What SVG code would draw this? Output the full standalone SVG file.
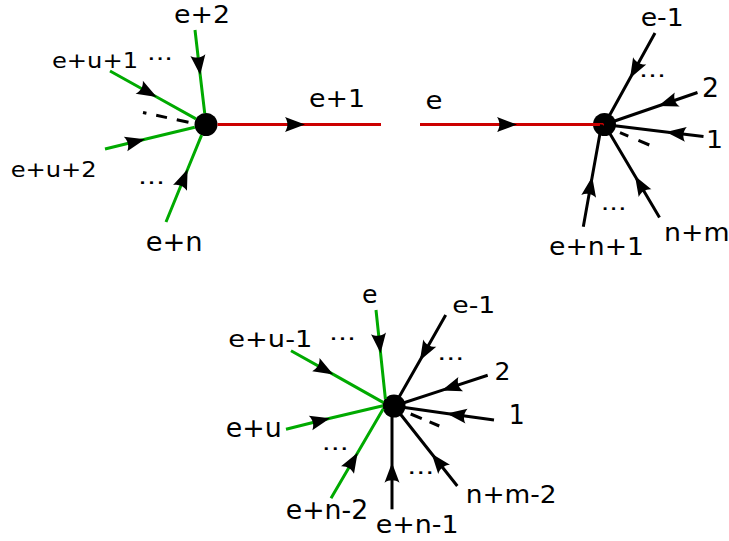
<svg xmlns="http://www.w3.org/2000/svg" width="729" height="541" viewBox="0 0 729 541">
<style>
  .g { fill: none; stroke: #00aa00; stroke-width: 3; }
  .k { fill: none; stroke: #000000; stroke-width: 3; }
  .r { fill: none; stroke: #cc0000; stroke-width: 3; }
  .arr { marker-mid: url(#arrow); }
  .d { fill: none; stroke: #000000; stroke-width: 3; }
  .node { fill: #000000; }
  text { font-family: "DejaVu Sans", "Liberation Sans", sans-serif; fill: #000000; }
</style>
<defs>
  <marker id="arrow" markerUnits="userSpaceOnUse" orient="auto" viewBox="-22 -9 24 18" refX="0" refY="0" markerWidth="24" markerHeight="18" overflow="visible">
    <path d="M0,0 L-20,-7.5 C-16.8,-2.8 -16.8,2.8 -20,7.5 Z" fill="#000000"/>
  </marker>
</defs>

<g id="node-a"><circle class="node" cx="206" cy="124.5" r="11.5"/></g>
<g id="node-b"><circle class="node" cx="604.5" cy="124.5" r="11.5"/></g>
<g id="node-c"><circle class="node" cx="394" cy="406" r="11.5"/></g>

<g id="connectors">
  <!-- left diagram -->
  <polyline class="g arr" points="195,30 200.2,75 204.7,113.1"/>
  <polyline class="g arr" points="110,71 156.7,97 196,118.9"/>
  <polyline class="g arr" points="105,149 145,139.3 194.8,127.2"/>
  <polyline class="g arr" points="166,222 187.6,169.3 201.6,135.1"/>
  <line class="d" x1="143" y1="112.5" x2="189" y2="122.3" stroke-dasharray="3.5 10 11 10 12"/>
  <polyline class="r arr" points="217.5,124.5 305,124.5 381,124.5"/>

  <!-- right diagram -->
  <polyline class="r arr" points="420,124.5 517,124.5 604.5,124.5"/>
  <polyline class="k arr" points="655,33 630,78.3 604.5,124.5"/>
  <polyline class="k arr" points="697.5,92.5 658.3,106 604.5,124.5"/>
  <polyline class="k arr" points="703.5,136.5 666,132 604.5,124.5"/>
  <polyline class="k arr" points="659.5,217.5 635,176 604.5,124.5"/>
  <polyline class="k arr" points="583.3,226.7 592.2,176.7 601.6,124.5"/>
  <line class="d" x1="620" y1="132.7" x2="649.3" y2="145" stroke-dasharray="9 11 13"/>

  <!-- bottom diagram -->
  <polyline class="g arr" points="376,310 380.6,353.3 385.4,399"/>
  <polyline class="g arr" points="291,350.7 333.3,374.4 383.5,402.6"/>
  <polyline class="g arr" points="286,429.3 330,418.2 383,405.7"/>
  <polyline class="g arr" points="331,498.3 357.6,452.7 383.3,408.7"/>
  <polyline class="k arr" points="445.7,315 419.9,360.5 394,406"/>
  <polyline class="k arr" points="487.7,375.3 441.7,390.4 394,406"/>
  <polyline class="k arr" points="494,420 446.7,413.4 394,406"/>
  <polyline class="k arr" points="457.3,486 431.7,453.7 394,406"/>
  <polyline class="k arr" points="392,509.3 392,462.7 392,406"/>
  <line class="d" x1="410.7" y1="414" x2="439.3" y2="426" stroke-dasharray="12 8.5 11"/>
</g>

<g id="labels">
  <!-- left diagram -->
  <text x="174" y="22.7" font-size="24" textLength="56" lengthAdjust="spacingAndGlyphs">e+2</text>
  <text x="52" y="67.7" font-size="22" textLength="86" lengthAdjust="spacingAndGlyphs">e+u+1</text>
  <text x="10.7" y="177" font-size="22" textLength="86" lengthAdjust="spacingAndGlyphs">e+u+2</text>
  <text x="145.7" y="250.5" font-size="26" textLength="57" lengthAdjust="spacingAndGlyphs">e+n</text>
  <text x="309" y="106.7" font-size="25" textLength="56" lengthAdjust="spacingAndGlyphs">e+1</text>
  <text x="147" y="60" font-size="22" textLength="26" lengthAdjust="spacingAndGlyphs">...</text>
  <text x="138" y="183.5" font-size="22" textLength="27" lengthAdjust="spacingAndGlyphs">...</text>

  <!-- right diagram -->
  <text x="425.5" y="109.3" font-size="25" textLength="17" lengthAdjust="spacingAndGlyphs">e</text>
  <text x="640.7" y="26" font-size="24" textLength="43" lengthAdjust="spacingAndGlyphs">e-1</text>
  <text x="702" y="96.7" font-size="26" textLength="17" lengthAdjust="spacingAndGlyphs">2</text>
  <text x="706" y="148.3" font-size="24" textLength="17" lengthAdjust="spacingAndGlyphs">1</text>
  <text x="664" y="241" font-size="24" textLength="65.5" lengthAdjust="spacingAndGlyphs">n+m</text>
  <text x="549" y="255" font-size="24" textLength="95" lengthAdjust="spacingAndGlyphs">e+n+1</text>
  <text x="639" y="77" font-size="22" textLength="27" lengthAdjust="spacingAndGlyphs">...</text>
  <text x="600.7" y="210" font-size="22" textLength="26" lengthAdjust="spacingAndGlyphs">...</text>

  <!-- bottom diagram -->
  <text x="362" y="302.7" font-size="25" textLength="15.5" lengthAdjust="spacingAndGlyphs">e</text>
  <text x="452.3" y="313.3" font-size="23" textLength="43" lengthAdjust="spacingAndGlyphs">e-1</text>
  <text x="228.3" y="347.3" font-size="23" textLength="84" lengthAdjust="spacingAndGlyphs">e+u-1</text>
  <text x="494.5" y="380" font-size="24" textLength="16" lengthAdjust="spacingAndGlyphs">2</text>
  <text x="508.7" y="424" font-size="26" textLength="16" lengthAdjust="spacingAndGlyphs">1</text>
  <text x="225.7" y="436.7" font-size="26" textLength="56" lengthAdjust="spacingAndGlyphs">e+u</text>
  <text x="465.7" y="503.3" font-size="24" textLength="91" lengthAdjust="spacingAndGlyphs">n+m-2</text>
  <text x="285.7" y="518.5" font-size="26" textLength="82.5" lengthAdjust="spacingAndGlyphs">e+n-2</text>
  <text x="375.7" y="533.3" font-size="25" textLength="83" lengthAdjust="spacingAndGlyphs">e+n-1</text>
  <text x="329" y="340" font-size="22" textLength="27" lengthAdjust="spacingAndGlyphs">...</text>
  <text x="437.3" y="360" font-size="22" textLength="27" lengthAdjust="spacingAndGlyphs">...</text>
  <text x="321.7" y="450" font-size="22" textLength="27" lengthAdjust="spacingAndGlyphs">...</text>
  <text x="407.3" y="473.5" font-size="22" textLength="27" lengthAdjust="spacingAndGlyphs">...</text>
</g>
</svg>
